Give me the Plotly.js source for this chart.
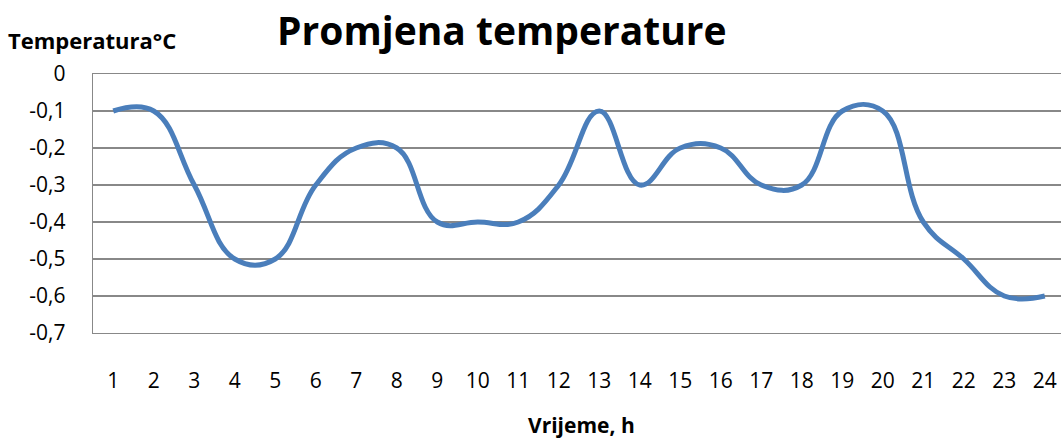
<!DOCTYPE html>
<html><head><meta charset="utf-8">
<script src="https://cdn.plot.ly/plotly-3.0.1.min.js"></script>
<style>html,body{margin:0;padding:0;background:#fff}#chart{width:1061px;height:438px}</style>
</head><body><div id="chart"></div>
<script>
const hours = [1,2,3,4,5,6,7,8,9,10,11,12,13,14,15,16,17,18,19,20,21,22,23,24];
const temperature = [-0.1,-0.1,-0.3,-0.5,-0.5,-0.3,-0.2,-0.2,-0.4,-0.4,-0.4,-0.3,-0.1,-0.3,-0.2,-0.2,-0.3,-0.3,-0.1,-0.1,-0.4,-0.5,-0.6,-0.6];
const yTicks = [0,-0.1,-0.2,-0.3,-0.4,-0.5,-0.6,-0.7];
const titleText = 'Promjena temperature';
const yTitle = 'Temperatura°C';
const xTitle = 'Vrijeme, h';
const font = '"Open Sans", "Liberation Sans", sans-serif';

const trace = {
  x: hours, y: temperature, type: 'scatter', mode: 'lines',
  line: {color: '#4A7EBB', width: 5, shape: 'spline', smoothing: 1.2},
  hoverinfo: 'skip'
};
const layout = {
  width: 1061, height: 438,
  margin: {l: 93, r: 0, t: 74, b: 105},
  paper_bgcolor: '#fff', plot_bgcolor: '#fff',
  separators: ', ',
  showlegend: false,
  font: {family: font, color: '#000', size: 21},
  title: {text: '<b>' + titleText + '</b>', font: {family: font, size: 39, color: '#000'}, x: 0.473, xanchor: 'center', y: 0.928, yanchor: 'middle'},
  xaxis: {
    range: [0.5, 24.4], tickmode: 'array', tickvals: hours, ticktext: hours.map(String),
    showgrid: false, zeroline: false, showline: true, mirror: true, linecolor: '#888', linewidth: 1.3,
    ticks: 'outside', ticklen: 28, tickcolor: 'rgba(0,0,0,0)',
    tickfont: {family: font, size: 21, color: '#000'},
    fixedrange: true
  },
  yaxis: {
    range: [-0.7, 0], tickmode: 'array', tickvals: yTicks,
    ticktext: yTicks.map(v => String(v).replace('.', ',')),
    showgrid: true, gridcolor: '#888', gridwidth: 1.3,
    zeroline: false, showline: true, linecolor: '#888', linewidth: 1.3,
    ticks: 'outside', ticklen: 22, tickcolor: 'rgba(0,0,0,0)',
    tickfont: {family: font, size: 21, color: '#000'},
    fixedrange: true
  },
  annotations: [
    {text: '<b>' + yTitle + '</b>', xref: 'paper', yref: 'paper', x: -0.09, y: 1.13, xanchor: 'left', yanchor: 'middle', showarrow: false, font: {family: font, size: 22, color: '#000'}},
    {text: '<b>' + xTitle + '</b>', xref: 'paper', yref: 'paper', x: 0.505, y: -0.355, xanchor: 'center', yanchor: 'middle', showarrow: false, font: {family: font, size: 21, color: '#000'}}
  ]
};
Plotly.newPlot('chart', [trace], layout, {displayModeBar: false, staticPlot: true});
</script></body></html>
